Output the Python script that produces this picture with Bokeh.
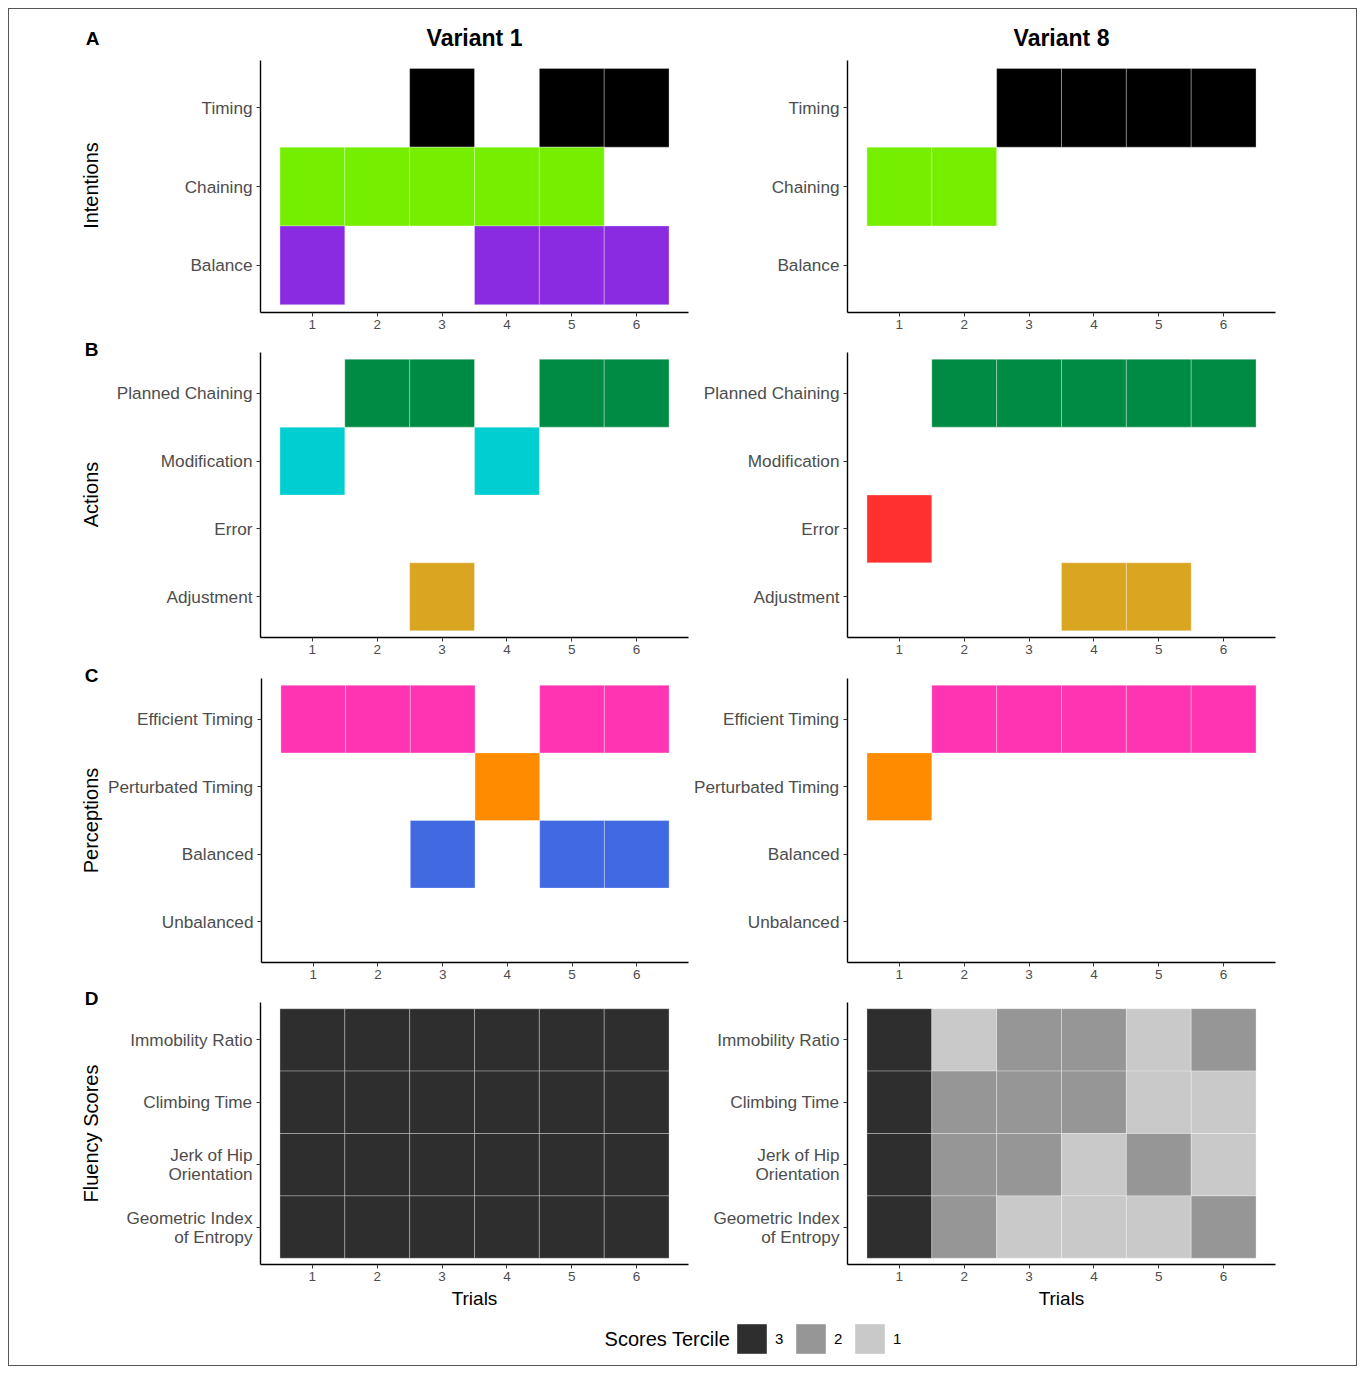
import math
from bokeh.plotting import figure
from bokeh.models import ColumnDataSource, Range1d, FixedTicker, Legend, LegendItem
from bokeh.core.properties import value
from bokeh.layouts import column, row
from bokeh.embed import file_html
from bokeh.resources import INLINE

FONT = "Liberation Sans"

TRIALS = [1, 2, 3, 4, 5, 6]
VARIANTS = ["Variant 1", "Variant 8"]

# ---- Intentions (rows listed top to bottom) ----
INTENTION_CATS = ["Timing", "Chaining", "Balance"]
INTENTION_COLORS = ["#000000", "#76EE00", "#8A2BE2"]
v1_intentions = {"Timing": [0, 0, 1, 0, 1, 1],
                 "Chaining": [1, 1, 1, 1, 1, 0],
                 "Balance": [1, 0, 0, 1, 1, 1]}
v8_intentions = {"Timing": [0, 0, 1, 1, 1, 1],
                 "Chaining": [1, 1, 0, 0, 0, 0],
                 "Balance": [0, 0, 0, 0, 0, 0]}

# ---- Actions ----
ACTION_CATS = ["Planned Chaining", "Modification", "Error", "Adjustment"]
ACTION_COLORS = ["#008B45", "#00CED1", "#FF3030", "#DAA520"]
v1_actions = {"Planned Chaining": [0, 1, 1, 0, 1, 1],
              "Modification": [1, 0, 0, 1, 0, 0],
              "Error": [0, 0, 0, 0, 0, 0],
              "Adjustment": [0, 0, 1, 0, 0, 0]}
v8_actions = {"Planned Chaining": [0, 1, 1, 1, 1, 1],
              "Modification": [0, 0, 0, 0, 0, 0],
              "Error": [1, 0, 0, 0, 0, 0],
              "Adjustment": [0, 0, 0, 1, 1, 0]}

# ---- Perceptions ----
PERCEPTION_CATS = ["Efficient Timing", "Perturbated Timing", "Balanced", "Unbalanced"]
PERCEPTION_COLORS = ["#FF34B3", "#FF8C00", "#4169E1", "#8B8B8B"]
v1_perceptions = {"Efficient Timing": [1, 1, 1, 0, 1, 1],
                  "Perturbated Timing": [0, 0, 0, 1, 0, 0],
                  "Balanced": [0, 0, 1, 0, 1, 1],
                  "Unbalanced": [0, 0, 0, 0, 0, 0]}
v8_perceptions = {"Efficient Timing": [0, 1, 1, 1, 1, 1],
                  "Perturbated Timing": [1, 0, 0, 0, 0, 0],
                  "Balanced": [0, 0, 0, 0, 0, 0],
                  "Unbalanced": [0, 0, 0, 0, 0, 0]}

# ---- Fluency scores (tercile 1..3) ----
FLUENCY_CATS = ["Immobility Ratio", "Climbing Time",
                "Jerk of Hip\nOrientation", "Geometric Index\nof Entropy"]
TERCILES = [3, 2, 1]
TERCILE_COLORS = ["#2E2E2E", "#969696", "#C9C9C9"]
v1_fluency = {"Immobility Ratio": [3, 3, 3, 3, 3, 3],
              "Climbing Time": [3, 3, 3, 3, 3, 3],
              "Jerk of Hip\nOrientation": [3, 3, 3, 3, 3, 3],
              "Geometric Index\nof Entropy": [3, 3, 3, 3, 3, 3]}
v8_fluency = {"Immobility Ratio": [3, 1, 2, 2, 1, 2],
              "Climbing Time": [3, 2, 2, 2, 1, 1],
              "Jerk of Hip\nOrientation": [3, 2, 2, 1, 2, 1],
              "Geometric Index\nof Entropy": [3, 2, 1, 1, 1, 2]}

ROW_TITLES = ["Intentions", "Actions", "Perceptions", "Fluency Scores"]
ROW_LETTERS = ["A", "B", "C", "D"]

# ---------------- layout geometry (pixels) ----------------
GUTTER_W = 95
LEFT_W, LEFT_MBL, LEFT_MBR = 586, 156, 2
RIGHT_W, RIGHT_MBL, RIGHT_MBR = 666, 157, 81
TOTAL_W = GUTTER_W + LEFT_W + RIGHT_W
HEADER_H = 43
ROW_GEOM = [  # height, min_border_top, min_border_bottom
    (282, 8, 22),
    (326, 18, 23),
    (325, 18, 23),
    (330, 17, 51),
]
GUTTER_H = sum(g[0] for g in ROW_GEOM)
# text anchor positions inside the gutter (pixels from gutter bottom-left)
TITLE_POS = [(81, 1130), (81, 821), (81, 495), (81, 182)]
LETTER_POS = [(82, 966), (82, 640), (82, 317)]  # B, C, D ("A" is in header)


def blank_fig(w, h):
    f = figure(width=w, height=h, x_range=Range1d(0, w), y_range=Range1d(0, h),
               output_backend="svg", toolbar_location=None, min_border=0)
    f.axis.visible = False
    f.grid.visible = False
    f.outline_line_color = None
    return f


def make_panel(cats, data, colors, is_left, geom, xlabel=None, tercile=False):
    h, mbt, mbb = geom
    w, mbl, mbr = (LEFT_W, LEFT_MBL, LEFT_MBR) if is_left else (RIGHT_W, RIGHT_MBL, RIGHT_MBR)
    n = len(cats)
    p = figure(width=w, height=h, x_range=Range1d(0.2, 6.8), y_range=Range1d(0.4, n + 0.6),
               output_backend="svg", toolbar_location=None,
               min_border_left=mbl, min_border_right=mbr,
               min_border_top=mbt, min_border_bottom=mbb)
    xs, ys, cs = [], [], []
    for i, c in enumerate(cats):
        for t, v in zip(TRIALS, data[c]):
            if tercile:
                xs.append(t); ys.append(n - i); cs.append(TERCILE_COLORS[TERCILES.index(v)])
            elif v:
                xs.append(t); ys.append(n - i); cs.append(colors[i])
    src = ColumnDataSource(dict(x=xs, y=ys, c=cs))
    p.rect(x="x", y="y", width=1, height=1, source=src, fill_color="c",
           line_color="white", line_alpha=0.3, line_width=1)
    p.grid.visible = False
    p.outline_line_color = None
    for ax in (p.xaxis, p.yaxis):
        ax.axis_line_color = "black"
        ax.axis_line_width = 1.4
        ax.major_tick_line_color = "#333333"
        ax.major_tick_in = 0
        ax.major_tick_out = 4
        ax.minor_tick_line_color = None
        ax.major_label_text_color = "#4D4D4D"
        ax.major_label_text_font = FONT
    p.xaxis.ticker = FixedTicker(ticks=TRIALS)
    p.xaxis.major_label_text_font_size = "13.5px"
    p.xaxis.major_label_standoff = 3
    p.yaxis.ticker = FixedTicker(ticks=list(range(1, n + 1)))
    p.yaxis.major_label_overrides = {n - i: c for i, c in enumerate(cats)}
    p.yaxis.major_label_text_font_size = "17.2px"
    p.yaxis.major_label_text_line_height = 0.95
    p.yaxis.major_label_standoff = 4
    if xlabel:
        p.xaxis.axis_label = xlabel
        p.xaxis.axis_label_text_font = FONT
        p.xaxis.axis_label_text_font_style = "normal"
        p.xaxis.axis_label_text_font_size = "19px"
        p.xaxis.axis_label_text_color = "black"
        p.xaxis.axis_label_standoff = 4
    return p


panels = [
    (INTENTION_CATS, INTENTION_COLORS, v1_intentions, v8_intentions, False),
    (ACTION_CATS, ACTION_COLORS, v1_actions, v8_actions, False),
    (PERCEPTION_CATS, PERCEPTION_COLORS, v1_perceptions, v8_perceptions, False),
    (FLUENCY_CATS, TERCILE_COLORS, v1_fluency, v8_fluency, True),
]

panel_rows = []
for r, (cats, colors, d1, d8, terc) in enumerate(panels):
    geom = ROW_GEOM[r]
    xlabel = "Trials" if r == 3 else None
    pl = make_panel(cats, d1, colors, True, geom, xlabel, terc)
    pr = make_panel(cats, d8, colors, False, geom, xlabel, terc)
    panel_rows.append(row(pl, pr, spacing=0))

# ---- header: panel letter A + variant titles ----
header = blank_fig(TOTAL_W, HEADER_H)
header.text(x=[83], y=[14], text=["A"], text_align="center", text_baseline="middle",
            text_font=value(FONT), text_font_size="19px", text_font_style="bold",
            text_color="black")
title_x = [GUTTER_W + LEFT_MBL + 214, GUTTER_W + LEFT_W + RIGHT_MBL + 214]
header.text(x=title_x, y=[15, 15], text=VARIANTS, text_align="center", text_baseline="middle",
            text_font=value(FONT), text_font_size="23px", text_font_style="bold",
            text_color="black")

# ---- gutter: row titles and letters ----
gutter = blank_fig(GUTTER_W, GUTTER_H)
gutter.text(x=[p[0] for p in TITLE_POS], y=[p[1] for p in TITLE_POS], text=ROW_TITLES,
            angle=math.pi / 2, text_align="center", text_baseline="middle",
            text_font=value(FONT), text_font_size="20px", text_color="black")
gutter.text(x=[p[0] for p in LETTER_POS], y=[p[1] for p in LETTER_POS], text=ROW_LETTERS[1:],
            text_align="center", text_baseline="middle",
            text_font=value(FONT), text_font_size="19px", text_font_style="bold",
            text_color="black")

# ---- legend strip ----
lg = figure(width=TOTAL_W, height=50, x_range=Range1d(0, 1), y_range=Range1d(0, 1),
            output_backend="svg", toolbar_location=None, min_border=0)
lg.axis.visible = False
lg.grid.visible = False
lg.outline_line_color = None
key_src = ColumnDataSource(dict(x=[0.5] * len(TERCILES), y=[-10] * len(TERCILES),
                                c=TERCILE_COLORS, t=[str(t) for t in TERCILES]))
kr = lg.rect(x="x", y="y", width=0.01, height=0.01, source=key_src, fill_color="c",
             line_color=None)
items = [LegendItem(label=t, renderers=[kr], index=i)
         for i, t in enumerate(key_src.data["t"])]
leg = Legend(items=items, orientation="horizontal", location=(724, 8),
             glyph_width=37, glyph_height=37, label_standoff=5, spacing=2, label_width=15,
             padding=0, margin=0, border_line_color=None, background_fill_alpha=0,
             label_text_font=FONT, label_text_font_size="15px", label_text_color="black")
lg.add_layout(leg, "center")
lg.text(x=[0.535], y=[0.54], text=["Scores Tercile"], text_align="right",
        text_baseline="middle", text_font=value(FONT), text_font_size="20px",
        text_color="black")

layout = column(header, row(gutter, column(*panel_rows, spacing=0), spacing=0), lg,
                spacing=0, styles={"border": "1px solid #555555", "margin": "8px"})

open("out.html", "w").write(file_html(layout, INLINE))
